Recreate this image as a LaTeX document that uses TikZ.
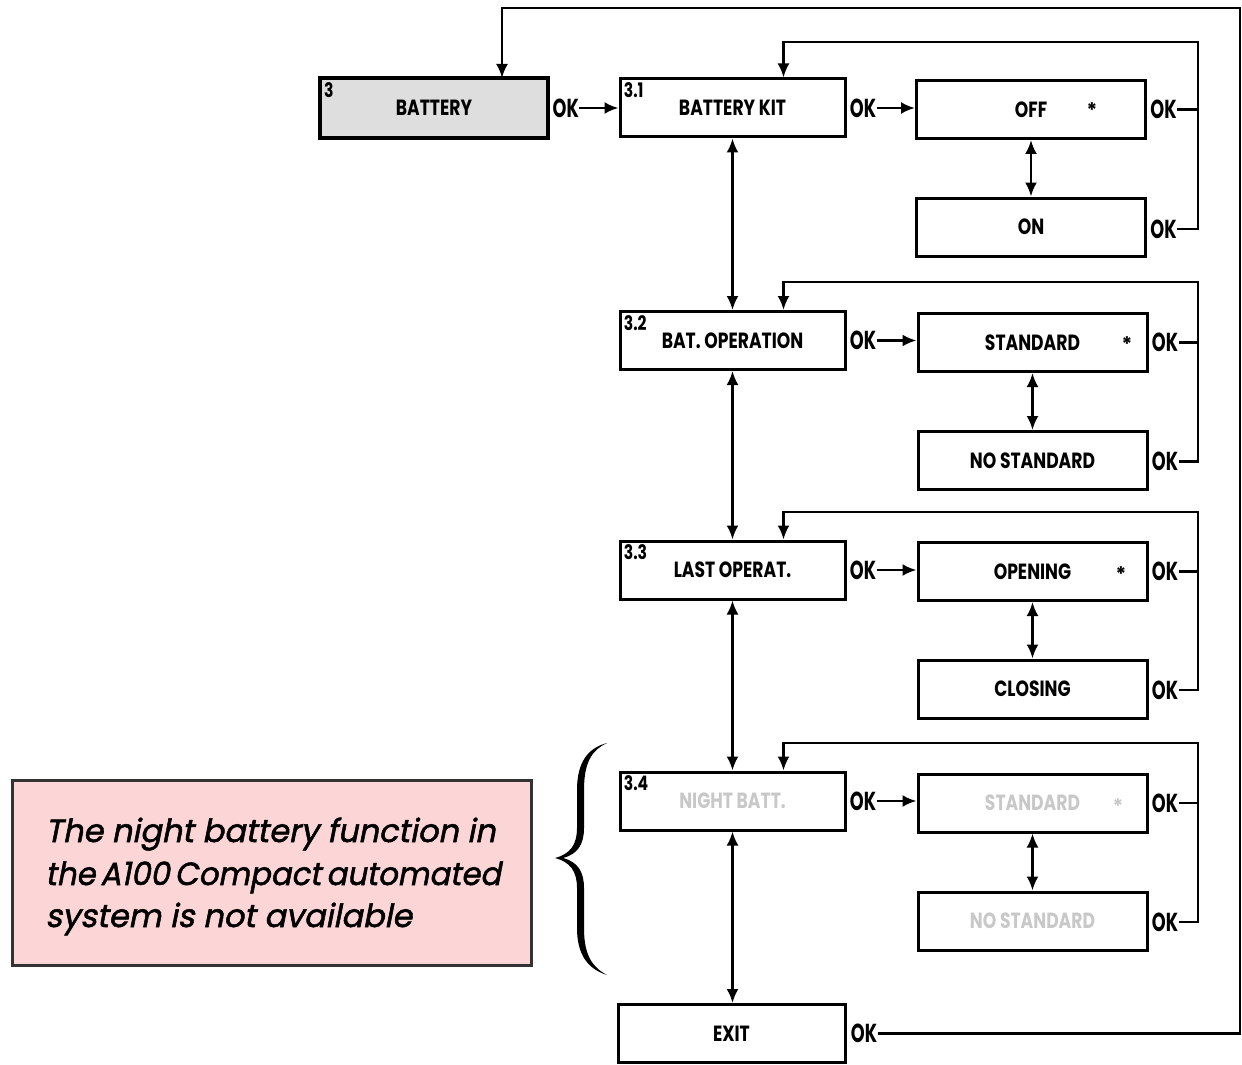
\documentclass[tikz,border=0pt]{standalone}
\usepackage{fontspec}
\setmainfont{Poppins}
\newfontfamily\boxfont[FakeStretch=0.78]{Poppins}
\newfontfamily\okfont[FakeStretch=0.68]{Poppins}
\newfontfamily\notefont[FakeSlant=0.2,FakeBold=1.6]{Poppins}
\usetikzlibrary{arrows.meta,calc}
\definecolor{grayfill}{HTML}{DEDEDE}
\definecolor{pinkfill}{HTML}{FCD6D6}
\definecolor{dimtext}{HTML}{C8C8C8}
\definecolor{notedraw}{HTML}{333333}
\begin{document}
\begin{tikzpicture}[x=0.5pt,y=-0.5pt,
  lbox/.style={draw=black,line width=1.5pt,minimum width=112.5pt,minimum height=29pt,inner sep=0pt,
    font=\boxfont\bfseries\fontsize{11}{13}\selectfont},
  rbox/.style={lbox,minimum width=114.5pt},
  numlbl/.style={anchor=north west,inner sep=0pt,font=\boxfont\bfseries\fontsize{10}{11}\selectfont},
  oklbl/.style={anchor=west,inner sep=0pt,font=\okfont\bfseries\fontsize{13}{14}\selectfont},
  starlbl/.style={inner sep=0pt,font=\bfseries\fontsize{10}{12}\selectfont},
  dim/.style={text=dimtext},
  link/.style={line width=1.25pt},
  arr/.style={line width=1.25pt,-{Latex[length=7pt,width=6pt]}},
  darr/.style={line width=1.25pt,{Latex[length=7pt,width=6pt]}-{Latex[length=7pt,width=6pt]}},
  notetext/.style={anchor=base west,inner sep=0pt,font=\notefont\fontsize{16}{20}\selectfont}]
\useasboundingbox (0,0) rectangle (1242,1065);

% left column
\node[lbox,fill=grayfill,line width=2.2pt,minimum width=114pt,minimum height=30pt] (bat) at (434,108) {BATTERY};
\node[lbox] (kit) at (732.5,108) {BATTERY KIT};
\node[lbox] (op) at (732.5,340.5) {BAT. OPERATION};
\node[lbox] (last) at (732.5,570) {LAST OPERAT.};
\node[lbox] (night) at (732.5,801) {\textcolor{dimtext}{NIGHT BATT.}};
\node[lbox,minimum width=113.5pt] (exit) at (731.5,1033.5) {EXIT};

\node[numlbl] (n3) at ($(bat.north west)+(6,6)$) {3};
\node[numlbl] (n31) at ($(kit.north west)+(5,5)$) {3.1};
\node[numlbl] (n32) at ($(op.north west)+(5,5)$) {3.2};
\node[numlbl] (n33) at ($(last.north west)+(5,5)$) {3.3};
\node[numlbl] (n34) at ($(night.north west)+(5,5)$) {3.4};

% right column
\node[rbox] (off) at (1031,109.5) {OFF};
\node[rbox] (on) at (1031,227) {ON};
\node[rbox] (std1) at (1032.5,342.5) {STANDARD};
\node[rbox] (nstd1) at (1032.5,460.5) {NO STANDARD};
\node[rbox] (open) at (1032.5,571.5) {OPENING};
\node[rbox] (close) at (1032.5,689) {CLOSING};
\node[rbox] (std2) at (1032.5,803) {\textcolor{dimtext}{STANDARD}};
\node[rbox] (nstd2) at (1032.5,921) {\textcolor{dimtext}{NO STANDARD}};

\node[starlbl] (s1) at (1092,110) {*};
\node[starlbl] (s2) at (1127,344) {*};
\node[starlbl] (s3) at (1121,574) {*};
\node[starlbl,dim] (s4) at (1118,806) {*};

% OK labels
\node[oklbl] (okb) at ($(bat.east)+(2,0)$) {OK};
\node[oklbl] (okk) at ($(kit.east)+(3,0)$) {OK};
\node[oklbl] (okop) at ($(op.east)+(3,0)$) {OK};
\node[oklbl] (oklast) at ($(last.east)+(3,0)$) {OK};
\node[oklbl] (oknight) at ($(night.east)+(3,0)$) {OK};
\node[oklbl] (okexit) at ($(exit.east)+(4,0)$) {OK};
\node[oklbl] (okoff) at ($(off.east)+(3,0)$) {OK};
\node[oklbl] (okon) at ($(on.east)+(3,2)$) {OK};
\node[oklbl] (okstd1) at ($(std1.east)+(3,0)$) {OK};
\node[oklbl] (oknstd1) at ($(nstd1.east)+(3,1)$) {OK};
\node[oklbl] (okopen) at ($(open.east)+(3,0)$) {OK};
\node[oklbl] (okclose) at ($(close.east)+(3,1)$) {OK};
\node[oklbl] (okstd2) at ($(std2.east)+(3,0)$) {OK};
\node[oklbl] (oknstd2) at ($(nstd2.east)+(3,1)$) {OK};

% forward arrows
\draw[arr] (okb.east) -- (kit.west);
\draw[arr] (okk.east) -- (off.west |- okk.east);
\draw[arr] (okop.east) -- (std1.west |- okop.east);
\draw[arr] (oklast.east) -- (open.west |- oklast.east);
\draw[arr] (oknight.east) -- (std2.west |- oknight.east);

% vertical double arrows
\draw[darr] (kit.south) -- (op.north);
\draw[darr] (op.south) -- (last.north);
\draw[darr] (last.south) -- (night.north);
\draw[darr] (night.south) -- (night.south |- exit.north);
\draw[darr] (off.south) -- (on.north);
\draw[darr] (std1.south) -- (nstd1.north);
\draw[darr] (open.south) -- (close.north);
\draw[darr] (std2.south) -- (nstd2.north);

% return loops
\coordinate (r1) at (1198,42);
\coordinate (r2) at (1198,282);
\coordinate (r3) at (1198,512);
\coordinate (r4) at (1198,743);
\coordinate (in1) at ($(kit.north)+(51,0)$);
\coordinate (in2) at ($(op.north)+(51,0)$);
\coordinate (in3) at ($(last.north)+(51,0)$);
\coordinate (in4) at ($(night.north)+(51,0)$);
\draw[link] (okoff.east) -- (okoff.east -| r1);
\draw[arr] (okon.east) -| (r1) -| (in1);
\draw[link] (okstd1.east) -- (okstd1.east -| r2);
\draw[arr] (oknstd1.east) -| (r2) -| (in2);
\draw[link] (okopen.east) -- (okopen.east -| r3);
\draw[arr] (okclose.east) -| (r3) -| (in3);
\draw[link] (okstd2.east) -- (okstd2.east -| r4);
\draw[arr] (oknstd2.east) -| (r4) -| (in4);

\coordinate (r0) at (1240,8);
\coordinate (in0) at (502,78);
\draw[arr] (okexit.east) -| (r0) -| (in0);

% note
\node[draw=notedraw,line width=1.5pt,fill=pinkfill,minimum width=259.5pt,minimum height=92.5pt,inner sep=0pt] (note) at (271.5,872.5) {};
\node[notetext] (t1) at (45,842) {The night battery function in};
\node[notetext] (t2) at (45,885) {\scalebox{0.96}[1]{the\,A100\,Compact\,automated}};
\node[notetext] (t3) at (45,927) {system is not available};

% brace
\fill[black] (607,743) .. controls (588,748) and (577,762) .. (577,790) -- (577,828)
  .. controls (577,845) and (570,854) .. (555,858)
  .. controls (570,862) and (577,871) .. (577,888) -- (577,928)
  .. controls (577,955) and (588,969) .. (607,975)
  .. controls (592,967) and (584,955) .. (584,928) -- (584,888)
  .. controls (584,872) and (578,862) .. (563,858)
  .. controls (578,854) and (584,844) .. (584,828) -- (584,790)
  .. controls (584,762) and (592,750) .. (607,743) -- cycle;
\end{tikzpicture}
\end{document}
